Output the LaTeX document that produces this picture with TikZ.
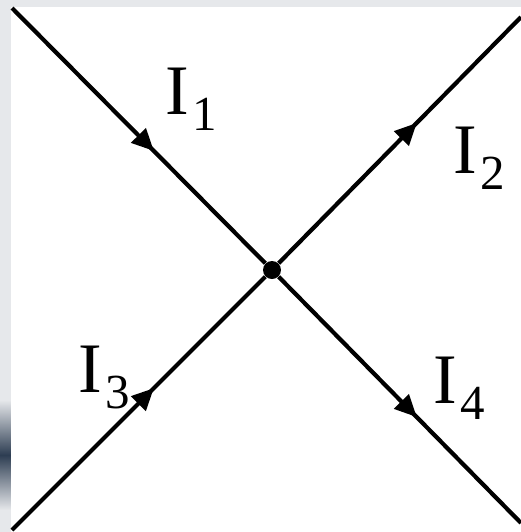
\documentclass[tikz,border=0pt]{standalone}
\usepackage{fontspec}
\setmainfont{Liberation Serif}
\usepackage{xcolor}
\usepackage{tikz}
\usetikzlibrary{
	arrows.meta,
	positioning,
	decorations.markings
}
\definecolor{stripgray}{HTML}{E6E8EB}
\definecolor{stripdark}{HTML}{2D3D52}
\newcommand{\curr}[1]{I\kern1.5pt\raisebox{-8pt}{\fontsize{24.5}{28}\selectfont #1}}

\begin{document}
\begin{tikzpicture}[
		x=0.5pt,
		y=-0.5pt,
		>={Triangle[length=11pt,width=10pt]},
		wire/.style={
			line width=2.1pt
		},
		flow/.style={
			wire,
			postaction={decorate},
			decoration={markings, mark=at position #1 with {\arrow{>}}}
		},
		junction/.style={
			circle,
			fill,
			minimum size=9pt,
			inner sep=0pt
		},
		current/.style={
			anchor=base west,
			inner sep=0pt,
			font=\fontsize{35.5}{40}\selectfont
		}
		]
		
		\useasboundingbox (0,0) rectangle (521,532);
		
		% Background
		\fill[stripgray] (0,0) rectangle (521,532);
		\fill[white] (11,7) rectangle (521,532);
		\shade[top color=stripgray, bottom color=stripdark] (0,400) rectangle (11,455);
		\shade[top color=stripdark, bottom color=stripgray] (0,455) rectangle (11,510);
		
		% Junction and wire ends
		\node[junction] (j) at (272,270) {};
		\coordinate (tl) at (12,8);
		\coordinate (bl) at (12,530);
		\coordinate (tr) at (521,17);
		\coordinate (br) at (521,523);
		
		% Wires
		\draw[flow=0.56] (tl) -- (j);
		\draw[flow=0.56] (bl) -- (j);
		\draw[flow=0.57] (j) -- (tr);
		\draw[flow=0.57] (j) -- (br);
		
		% Currents
		\node[current] (i1) at (165,114) {\curr{1}};
		\node[current] (i2) at (453,173) {\curr{2}};
		\node[current] (i3) at (78,392) {\curr{3}};
		\node[current] (i4) at (433,403) {\curr{4}};
		
	\end{tikzpicture}
\end{document}
